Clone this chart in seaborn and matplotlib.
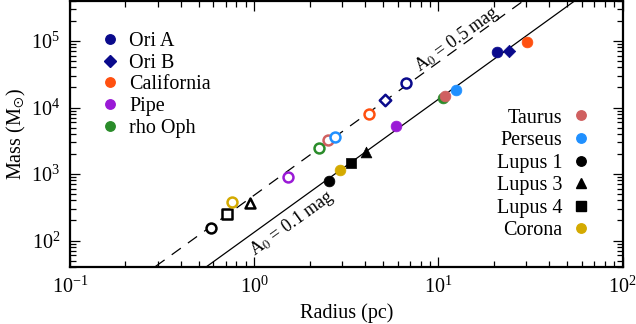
import numpy as np
import pandas as pd
import matplotlib
matplotlib.use("Agg")
import matplotlib.pyplot as plt
from matplotlib.lines import Line2D
import seaborn as sns

# clouds and their styles
clouds = ["Ori A", "Ori B", "California", "Pipe", "rho Oph",
          "Taurus", "Perseus", "Lupus 1", "Lupus 3", "Lupus 4", "Corona"]
colors = ["#0a0a8c", "#0a0a8c", "#ff5010", "#9a1ad6", "#2a8c2a",
          "#d06060", "#2090ff", "black", "black", "black", "#d4aa00"]
markers = ["o", "D", "o", "o", "o", "o", "o", "o", "^", "s", "o"]

# open symbols: A0 = 0.5 mag contour
r_05 = [6.65, 5.12, 4.21, 1.53, 2.24, 2.52, 2.74, 0.582, 0.948, 0.714, 0.760]
m_05 = [23400, 13150, 7870, 893, 2440, 3250, 3600, 156, 369, 253, 378]
# filled symbols: A0 = 0.1 mag contour
r_01 = [20.8, 24.1, 30.1, 5.88, 10.6, 10.9, 12.5, 2.54, 4.02, 3.37, 2.94]
m_01 = [67800, 71000, 97600, 5260, 13970, 15100, 18600, 794, 2180, 1460, 1160]

# M = k R^2 reference lines
k_05 = 480.0
k_01 = 133.0
r_line = np.array([0.1, 100.0])

left_legend = ["Ori A", "Ori B", "California", "Pipe", "rho Oph"]
right_legend = ["Taurus", "Perseus", "Lupus 1", "Lupus 3", "Lupus 4", "Corona"]

sns.set_theme(style="ticks")
plt.rcParams["font.family"] = ["Liberation Serif", "DejaVu Serif"]
plt.rcParams["mathtext.fontset"] = "stix"
plt.rcParams["font.size"] = 14.5
for key in ["text.color", "axes.labelcolor", "xtick.color", "ytick.color",
            "axes.edgecolor"]:
    plt.rcParams[key] = "black"

fig = plt.figure(figsize=(6.36, 3.24), dpi=100)
ax = fig.add_axes([0.110, 0.176, 0.869, 0.821])

df05 = pd.DataFrame({"cloud": clouds, "R": r_05, "M": m_05})
df01 = pd.DataFrame({"cloud": clouds, "R": r_01, "M": m_01})

ax.plot(r_line, k_05 * r_line**2, color="black", lw=0.9, ls=(0, (9, 7)), zorder=1)
ax.plot(r_line, k_01 * r_line**2, color="black", lw=0.9, zorder=1)

def marker_size(m):
    return {"D": 40, "^": 60, "s": 55}.get(m, 60)

for i, c in enumerate(clouds):
    sub = df05[df05.cloud == c]
    sns.scatterplot(data=sub, x="R", y="M", ax=ax, marker=markers[i],
                    color="white", edgecolor=colors[i], linewidth=1.8,
                    s=marker_size(markers[i]) * 0.85, legend=False, zorder=3)
    sub = df01[df01.cloud == c]
    sns.scatterplot(data=sub, x="R", y="M", ax=ax, marker=markers[i],
                    color=colors[i], edgecolor=colors[i], linewidth=0.5,
                    s=marker_size(markers[i]), legend=False, zorder=3)

ax.set_xscale("log")
ax.set_yscale("log")
ax.set_xlim(0.1, 100)
ax.set_ylim(40, 4e5)
ax.set_xlabel("Radius (pc)", fontsize=14.5, labelpad=4)
ax.set_ylabel(r"Mass (M$_{\odot}$)", fontsize=14.5, labelpad=2)

ax.tick_params(which="both", direction="in", top=True, right=True,
               labelsize=14.5, width=0.9)
ax.tick_params(which="major", length=7, pad=7)
ax.tick_params(which="minor", length=4)
for sp in ax.spines.values():
    sp.set_linewidth(1.6)

# labels along the lines
def line_angle(k):
    p = ax.transData.transform([(1.0, k), (10.0, k * 100)])
    return np.degrees(np.arctan2(p[1, 1] - p[0, 1], p[1, 0] - p[0, 0]))

ax.text(12.6, 104000, r"A$_0$ = 0.5 mag", fontsize=13, rotation=line_angle(k_05),
        rotation_mode="anchor", ha="center", va="center")
ax.text(1.6, 182, r"A$_0$ = 0.1 mag", fontsize=13, rotation=line_angle(k_01),
        rotation_mode="anchor", ha="center", va="center")

def handle(name):
    i = clouds.index(name)
    ms = 6.0 if markers[i] == "D" else 6.8
    return Line2D([], [], ls="none", marker=markers[i], color=colors[i],
                  markersize=ms, label=name)

leg1 = ax.legend(handles=[handle(n) for n in left_legend], loc="upper left",
                 bbox_to_anchor=(0.054, 0.885), frameon=False, borderpad=0,
                 handlelength=1.0, handletextpad=0.45, labelspacing=0.14,
                 fontsize=14.5, borderaxespad=0)
ax.add_artist(leg1)
ax.legend(handles=[handle(n) for n in right_legend], loc="upper right",
          bbox_to_anchor=(0.942, 0.596), frameon=False, borderpad=0,
          handlelength=1.0, handletextpad=0.4, labelspacing=0.17,
          fontsize=14.5, borderaxespad=0, markerfirst=False)

fig.savefig("out.png", dpi=100)
